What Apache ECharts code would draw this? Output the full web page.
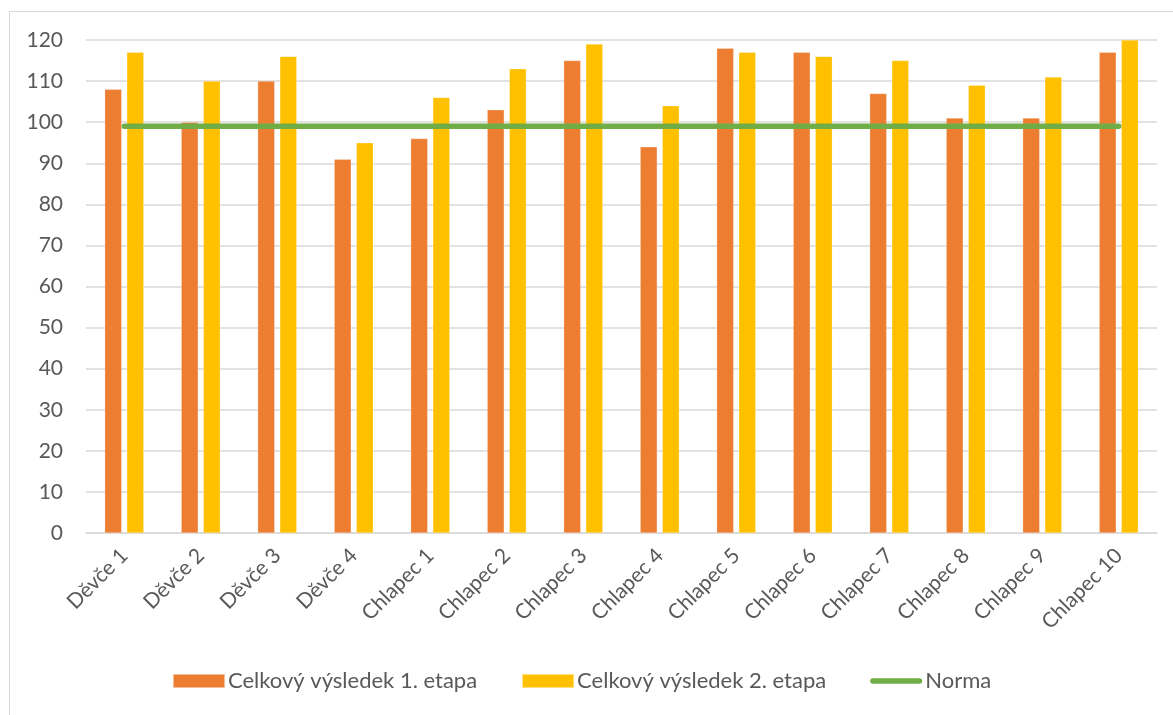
<!DOCTYPE html>
<html>
<head>
<meta charset="utf-8">
<script src="https://cdn.jsdelivr.net/npm/echarts@6/dist/echarts.min.js"></script>
<style>
html,body{margin:0;padding:0;background:#fff;}
#chart{width:1173px;height:715px;position:relative;}
#frame{position:absolute;left:9px;top:11px;width:1200px;height:800px;border:1px solid #D9D9D9;pointer-events:none;}
</style>
</head>
<body>
<div id="chart"></div>
<div id="frame"></div>
<script>
const categories = ['Děvče 1','Děvče 2','Děvče 3','Děvče 4','Chlapec 1','Chlapec 2','Chlapec 3','Chlapec 4','Chlapec 5','Chlapec 6','Chlapec 7','Chlapec 8','Chlapec 9','Chlapec 10'];
const etapa1 = [108,100,110,91,96,103,115,94,118,117,107,101,101,117];
const etapa2 = [117,110,116,95,106,113,119,104,117,116,115,109,111,120];
const norma = [99,99,99,99,99,99,99,99,99,99,99,99,99,99];
const seriesNames = ['Celkový výsledek 1. etapa','Celkový výsledek 2. etapa','Norma'];

const FONT = 'Lato';
const chart = echarts.init(document.getElementById('chart'), null, {renderer:'canvas'});
chart.setOption({
  animation:false,
  backgroundColor:'#fff',
  textStyle:{fontFamily:FONT},
  grid:{left:86,right:16,top:40,bottom:182,containLabel:false},
  legend:{
    top:670,left:172,padding:0,
    itemWidth:52,itemHeight:14,itemGap:44,
    textStyle:{fontFamily:FONT,fontSize:22,color:'#595959',padding:[0,0,0,-2]},
    data:[
      {name:seriesNames[0],icon:'rect'},
      {name:seriesNames[1],icon:'rect'},
      {name:seriesNames[2],icon:'path://M3,0 L55,0 A3,3 0 0 1 55,6 L3,6 A3,3 0 0 1 3,0 Z',
       itemStyle:{color:'#70AD47'}}
    ]
  },
  xAxis:{
    type:'category',data:categories,
    axisLine:{lineStyle:{color:'#D9D9D9',width:1.5}},
    axisTick:{show:false},
    axisLabel:{rotate:45,margin:19,fontSize:21,color:'#595959',fontFamily:FONT,interval:0}
  },
  yAxis:{
    type:'value',min:0,max:120,interval:10,
    axisLine:{show:false},axisTick:{show:false},
    splitLine:{lineStyle:{color:'#D9D9D9',width:1.5}},
    axisLabel:{fontSize:21,color:'#595959',fontFamily:FONT,margin:23}
  },
  series:[
    {name:seriesNames[0],type:'bar',data:etapa1,barWidth:17,barGap:'30%',
     itemStyle:{color:'#ED7D31',borderColor:'rgba(255,255,255,0.5)',borderWidth:0.5}},
    {name:seriesNames[1],type:'bar',data:etapa2,barWidth:17,barGap:'30%',
     itemStyle:{color:'#FFC000',borderColor:'rgba(255,255,255,0.5)',borderWidth:0.5}},
    {name:seriesNames[2],type:'line',data:norma,symbol:'none',
     lineStyle:{color:'#70AD47',width:5.5,cap:'round'},itemStyle:{color:'#70AD47'}}
  ]
});
</script>
</body>
</html>
